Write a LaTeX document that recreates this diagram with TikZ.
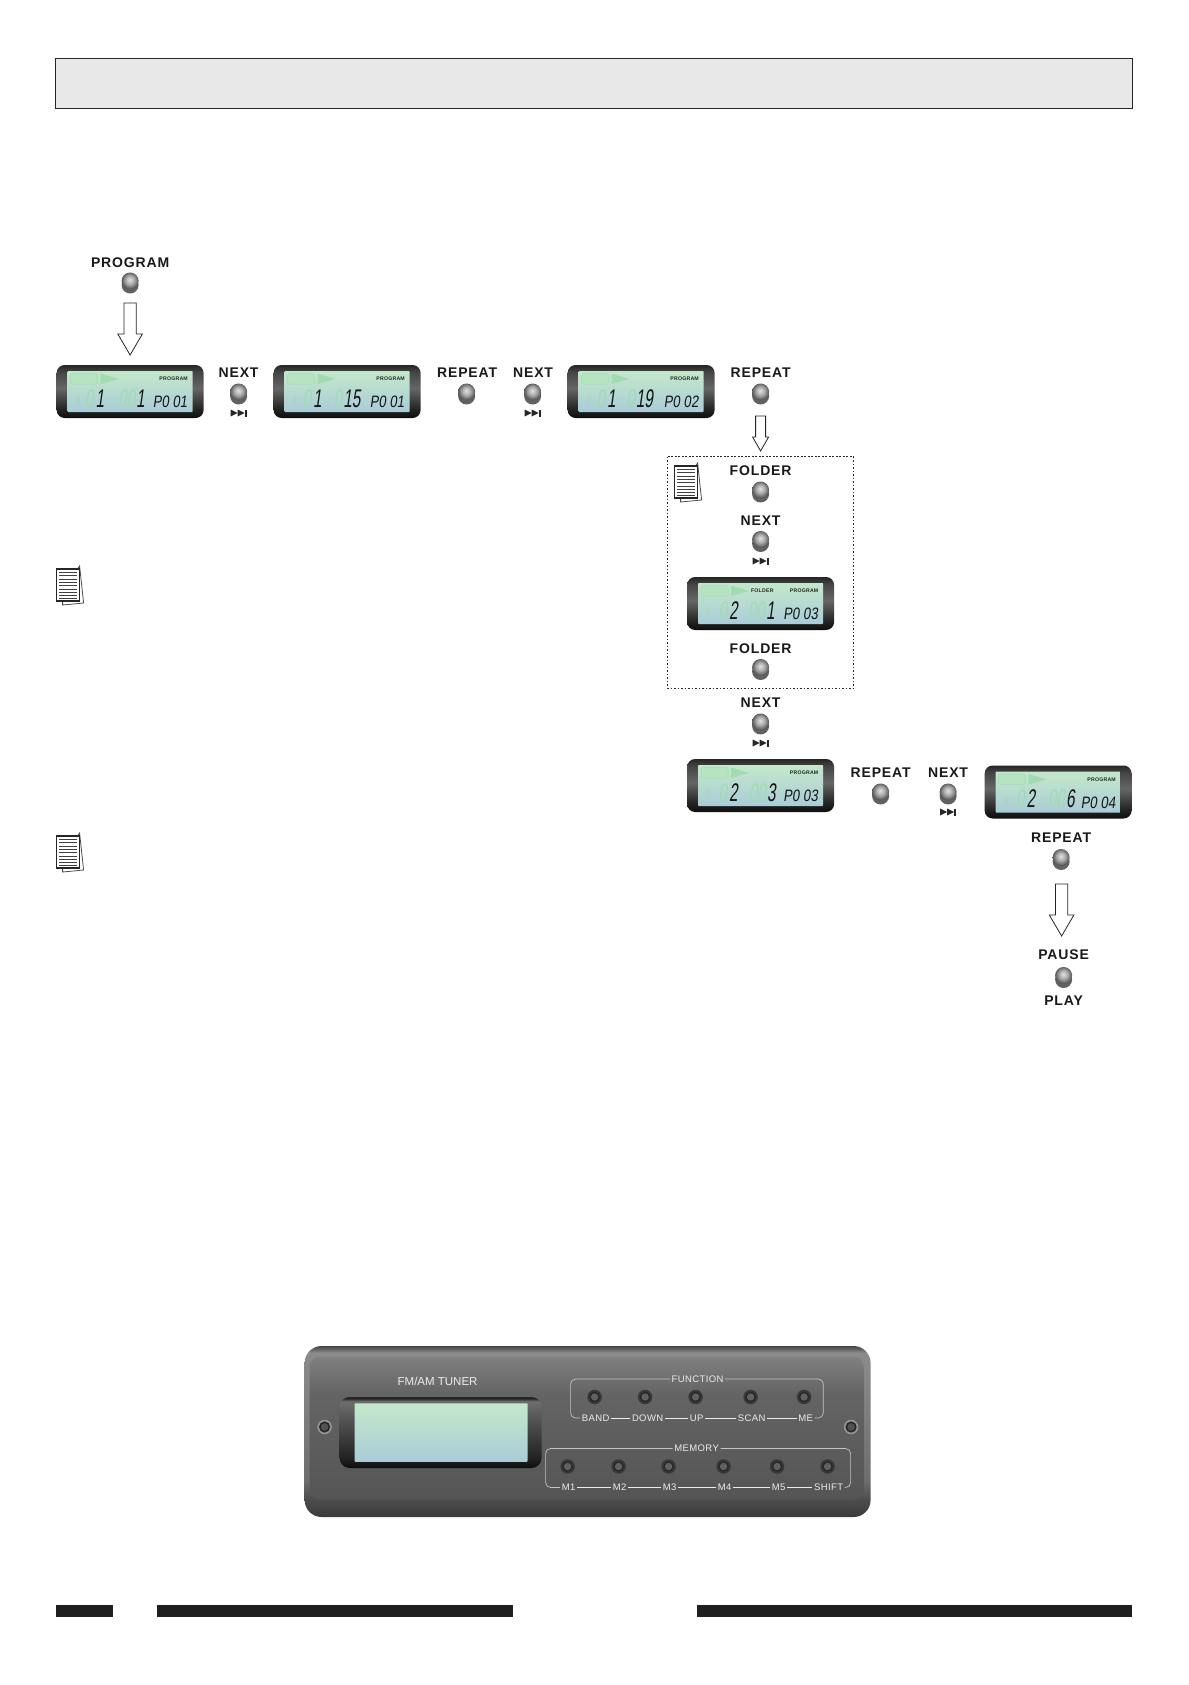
\documentclass[tikz,border=0pt]{standalone}
\usepackage{fontspec}
\setmainfont{Liberation Sans}
\newfontfamily\lblfont[LetterSpace=6]{Liberation Sans Bold}
\newfontfamily\lcdfont[FakeStretch=0.6,FakeSlant=0.14]{Liberation Sans}
\newfontfamily\lcdsmall[FakeStretch=0.8,FakeSlant=0.14]{Liberation Sans}
\newfontfamily\tinyfont[LetterSpace=4]{Liberation Sans Bold}
\newfontfamily\panelfont[LetterSpace=4]{Liberation Sans}
\definecolor{ghost}{HTML}{A0DCB0}
\definecolor{ghostb}{HTML}{B6E4C0}
\definecolor{lcdink}{HTML}{141414}
\definecolor{paneltxt}{HTML}{ECECEC}
\definecolor{pframec}{HTML}{C4C4C4}
\definecolor{pA}{HTML}{444444}
\definecolor{pB}{HTML}{8C8C8C}
\definecolor{pC}{HTML}{6E6E6E}
\definecolor{pD}{HTML}{4C4C4C}
\definecolor{pE}{HTML}{3A3A3A}
\definecolor{piA}{HTML}{555555}
\definecolor{piB}{HTML}{646464}
\definecolor{piC}{HTML}{808080}
\definecolor{bzA}{HTML}{262626}
\definecolor{bzB}{HTML}{666666}
\definecolor{bzC}{HTML}{0E0E0E}
\definecolor{bzD}{HTML}{222222}
\definecolor{bzE}{HTML}{464646}
\definecolor{tzB}{HTML}{555555}
\definecolor{tzC}{HTML}{6E6E6E}
\definecolor{scrA}{HTML}{C4E8CA}
\definecolor{scrB}{HTML}{AACCD8}
\definecolor{ballA}{HTML}{E2E2E2}
\definecolor{ballB}{HTML}{A8A8A8}
\definecolor{ballC}{HTML}{555555}
\pgfdeclareverticalshading{bezelsh}{100bp}{color(0bp)=(bzC); color(25bp)=(bzC); color(33bp)=(bzD); color(53bp)=(bzB); color(68bp)=(bzE); color(75bp)=(bzA); color(100bp)=(bzA)}
\pgfdeclareverticalshading{tbezelsh}{100bp}{color(0bp)=(bzC); color(25bp)=(bzC); color(32bp)=(bzD); color(60bp)=(tzB); color(72bp)=(tzC); color(74bp)=(bzA); color(100bp)=(bzA)}
\pgfdeclareverticalshading{scrsh}{100bp}{color(0bp)=(scrB); color(25bp)=(scrB); color(75bp)=(scrA); color(100bp)=(scrA)}
\pgfdeclareverticalshading{panelsh}{100bp}{color(0bp)=(pE); color(25bp)=(pE); color(30bp)=(pD); color(36bp)=(pC); color(73bp)=(pB); color(75bp)=(pA); color(100bp)=(pA)}
\pgfdeclareverticalshading{panelinsh}{100bp}{color(0bp)=(piA); color(25bp)=(piA); color(62bp)=(piB); color(75bp)=(piC); color(100bp)=(piC)}
\pgfdeclareradialshading{ballsh}{\pgfpoint{-1bp}{4bp}}{color(0bp)=(ballA); color(13bp)=(ballB); color(25bp)=(ballC); color(50bp)=(ballC)}
\tikzset{
  x=1pt,y=-1pt,
  lbl/.style={inner sep=0pt,yshift=-1pt,font=\lblfont\fontsize{14}{14}\selectfont,text=black!90},
  ballbtn/.style={circle,minimum size=17pt,inner sep=0pt,shading=ballsh},
  ballshadow/.style={circle,minimum size=17pt,inner sep=0pt,fill=black!62},
  lcdbody/.style={rounded corners=8pt,minimum width=147pt,minimum height=53pt,inner sep=0pt,shading=bezelsh},
  lcdscreen/.style={rounded corners=.8pt,minimum width=125pt,minimum height=41pt,inner sep=0pt,shading=scrsh},
  bigd/.style={inner sep=0pt,anchor=east,text=lcdink,font=\lcdfont\fontsize{25.5}{25.5}\selectfont},
  ghostd/.style={inner sep=0pt,text=ghost,font=\lcdfont\fontsize{12.5}{12.5}\selectfont},
  prg/.style={inner sep=0pt,text=lcdink,font=\lcdsmall\fontsize{16.5}{16.5}\selectfont},
  tiny/.style={inner sep=0pt,text=black!85,font=\tinyfont\fontsize{5.2}{5.2}\selectfont},
  hollow/.style={draw=black!85,line width=.8pt,fill=white,line join=miter},
  plbl/.style={inner sep=1.5pt,text=paneltxt,font=\panelfont\fontsize{9.5}{9.5}\selectfont},
  pframe/.style={draw=pframec,line width=.7pt,rounded corners=5pt},
  pline/.style={draw=paneltxt,line width=.8pt},
}
\def\gtxt{00}
% name, cx, cy, d1 east x, d1, d2 east x, d2, program text, folder flag text
\newcommand{\lcdunit}[9]{%
  \node[lcdbody] (#1) at (#2,#3) {};
  \node[lcdscreen] (#1s) at (#2,#3) {};
  \begin{scope}[shift={(#2,#3)}]
    \draw[draw=ghost,line width=.5pt,fill=ghostb,rounded corners=1.5pt] (-59.5,-18) rectangle (-32.5,-7.5);
    \fill[ghost] (-29.5,-18) -- (-11.5,-12.5) -- (-29.5,-7.5) -- cycle;
    \node[ghostd] (#1g0) at (-53,9) {8};
    \node[bigd] (#1a) at (#4,7) {\textcolor{ghost}{0}\hspace{2pt}#5};
    \node[bigd] (#1b) at (#6,7) {\textcolor{ghost}{\gtxt}\hspace{1pt}#7};
    \node[prg] (#1p) at (40,10.5) {#8};
    \node[tiny] (#1t) at (43.5,-12.5) {PROGRAM};
    \node[tiny] (#1f) at (1.7,-12.5) {#9};
  \end{scope}}
% name x y
\newcommand{\btn}[3]{%
  \node[ballshadow] (#1sh) at (#2,#3+4) {};
  \node[ballbtn] (#1) at (#2,#3) {};}
% skip icon
\newcommand{\skipicon}[3]{%
  \begin{scope}[shift={(#2,#3)}]
    \coordinate (#1) at (0,0);
    \fill[black!85] (-8,-3.5) -- (-1,0) -- (-8,3.5) -- cycle;
    \fill[black!85] (-1,-3.5) -- (6,0) -- (-1,3.5) -- cycle;
    \fill[black!85] (6.2,-3.5) rectangle (8,3.5);
  \end{scope}}
% cx top shoulder tip halfshaft halfhead
\newcommand{\blockarrow}[6]{%
  \draw[hollow] (#1-#5,#2) -- (#1+#5,#2) -- (#1+#5,#3) -- (#1+#6,#3) -- (#1,#4) -- (#1-#6,#3) -- (#1-#5,#3) -- cycle;}
% note icon at top-left x y
\newcommand{\noteicon}[2]{%
  \begin{scope}[shift={(#1,#2)}]
    \draw[black!70,line width=.8pt,fill=white] (6,35) -- (6,39) -- (27,37) -- (23,0) -- (21,3) -- (21,35) -- cycle;
    \draw[black!85,line width=1.1pt,fill=white] (0,3) rectangle (23,35);
    \foreach \yy in {6.3,9.6,...,33} \draw[black!75,line width=.6pt] (2.5,\yy) -- (20.5,\yy);
  \end{scope}}
% panel button
\newcommand{\pbtn}[3]{%
  \node[circle,minimum size=14.5pt,inner sep=0pt,fill=black!78] (#1) at (#2,#3) {};
  \fill[black!85] (#2,#3) circle (5.2pt);
  \fill[black!62] (#2,#3) circle (3.7pt);}
% screw
\newcommand{\pscrew}[3]{%
  \node[circle,minimum size=14.5pt,inner sep=0pt,fill=black!42] (#1) at (#2,#3) {};
  \fill[black!85] (#2,#3) circle (5.6pt);
  \fill[black!68] (#2,#3) circle (3.8pt);}
\begin{document}
\begin{tikzpicture}
\useasboundingbox (0,0) rectangle (1188,1685);
\fill[white] (0,0) rectangle (1188,1685);
% header
\draw[fill=black!9,draw=black!85,line width=.7pt] (55,58) rectangle (1132,108.5);
\begin{scope}[xshift=.6pt]
% top row
\node[lbl] (lprog) at (129.5,262) {PROGRAM};
\btn{bprog}{129.5}{281}
\blockarrow{129.5}{303}{334}{355}{6.2}{12.3}
\lcdunit{lcdA}{129.5}{391.5}{-25.7}{1}{14.8}{1}{P0 01}{}
\node[lbl] (lnA) at (238,371.7) {NEXT};
\btn{bnA}{238}{392}
\skipicon{snA}{238}{413}
\def\gtxt{0}
\lcdunit{lcdB}{346.5}{391.5}{-25.3}{1}{13.5}{15}{P0 01}{}
\node[lbl] (lrA) at (466.5,371.7) {REPEAT};
\btn{brA}{466}{392}
\node[lbl] (lnB) at (532.5,371.7) {NEXT};
\btn{bnB}{532}{392}
\skipicon{snB}{532}{413}
\lcdunit{lcdC}{640.5}{391.5}{-25.2}{1}{12}{19}{P0 02}{}
\def\gtxt{00}
\node[lbl] (lrB) at (760,371.7) {REPEAT};
\btn{brB}{760}{392}
\blockarrow{760}{416}{437}{451}{5}{8}
% dotted group
\draw[black!85,line width=.9pt,dash pattern=on 1.6pt off 1.9pt] (666.7,456.7) rectangle (853,688);
\noteicon{674}{463}
\node[lbl] (lfA) at (760,469.5) {FOLDER};
\btn{bfA}{760}{490}
\node[lbl] (lnC) at (760,520) {NEXT};
\btn{bnC}{760}{539.5}
\skipicon{snC}{760}{561}
\lcdunit{lcdD}{760}{603.5}{-22.7}{2}{14.3}{1}{P0 03}{FOLDER}
\node[lbl] (lfB) at (760,647.5) {FOLDER};
\btn{bfB}{760}{667.5}
\node[lbl] (lnD) at (760,702) {NEXT};
\btn{bnD}{760}{722}
\skipicon{snD}{760}{743}
\lcdunit{lcdE}{760}{785.5}{-22.7}{2}{15.3}{3}{P0 03}{}
\node[lbl] (lrC) at (880,771.7) {REPEAT};
\btn{brC}{880}{792}
\node[lbl] (lnE) at (947.5,771.7) {NEXT};
\btn{bnE}{947.5}{792}
\skipicon{snE}{947.5}{812}
\lcdunit{lcdF}{1057.5}{792}{-22.7}{2}{16.8}{6}{P0 04}{}
\node[lbl] (lrD) at (1060.5,837) {REPEAT};
\btn{brD}{1060.5}{857.5}
\blockarrow{1061}{884}{915}{936}{6.2}{12.3}
\node[lbl] (lpa) at (1063,954) {PAUSE};
\btn{bpa}{1063}{975.5}
\node[lbl] (lpl) at (1063,1000) {PLAY};
% note icons
\noteicon{56}{566}
\noteicon{56}{833}
% tuner panel
\node[rounded corners=17pt,minimum width=566pt,minimum height=171pt,inner sep=0pt,shading=panelsh] (panel) at (587,1431.5) {};
\node[rounded corners=10pt,minimum width=554pt,minimum height=143pt,inner sep=0pt,shading=panelinsh] (panelin) at (586,1428) {};
\node[plbl,font=\fontsize{11.5}{11.5}\selectfont] (tun) at (437,1381) {FM/AM TUNER};
\node[rounded corners=10pt,minimum width=202pt,minimum height=71pt,inner sep=0pt,shading=tbezelsh] (tbz) at (440,1432.5) {};
\node[rounded corners=.8pt,minimum width=173pt,minimum height=58.5pt,inner sep=0pt,shading=scrsh] (tscr) at (440.5,1432.5) {};
\pscrew{scL}{324}{1427}
\pscrew{scR}{850.5}{1427}
% function group
\node[plbl] (fn) at (697,1379) {FUNCTION};
\node[plbl] (fband) at (595,1418) {BAND};
\node[plbl] (fdown) at (647,1418) {DOWN};
\node[plbl] (fup) at (696,1418) {UP};
\node[plbl] (fscan) at (751,1418) {SCAN};
\node[plbl] (fme) at (805,1418) {ME};
\draw[pframe] (fn.west) -- (570,1379) -- (570,1418) -- (fband.west);
\draw[pframe] (fn.east) -- (822.7,1379) -- (822.7,1418) -- (fme.east);
\draw[pline] (fband.east) -- (fdown.west);
\draw[pline] (fdown.east) -- (fup.west);
\draw[pline] (fup.east) -- (fscan.west);
\draw[pline] (fscan.east) -- (fme.west);
\pbtn{pb1}{594}{1397}\pbtn{pb2}{644.5}{1397}\pbtn{pb3}{695}{1397}\pbtn{pb4}{750}{1397}\pbtn{pb5}{803.5}{1397}
% memory group
\node[plbl] (mm) at (696,1448.5) {MEMORY};
\node[plbl] (m1) at (568,1487.5) {M1};
\node[plbl] (m2) at (619,1487.5) {M2};
\node[plbl] (m3) at (669,1487.5) {M3};
\node[plbl] (m4) at (724,1487.5) {M4};
\node[plbl] (m5) at (778,1487.5) {M5};
\node[plbl] (msh) at (828,1487.5) {SHIFT};
\draw[pframe] (mm.west) -- (545,1448.5) -- (545,1487.5) -- (m1.west);
\draw[pframe] (mm.east) -- (850,1448.5) -- (850,1487.5) -- (msh.east);
\draw[pline] (m1.east) -- (m2.west);
\draw[pline] (m2.east) -- (m3.west);
\draw[pline] (m3.east) -- (m4.west);
\draw[pline] (m4.east) -- (m5.west);
\draw[pline] (m5.east) -- (msh.west);
\pbtn{mb1}{567}{1466.5}\pbtn{mb2}{618}{1466.5}\pbtn{mb3}{668}{1466.5}\pbtn{mb4}{723}{1466.5}\pbtn{mb5}{776.5}{1466.5}\pbtn{mb6}{827}{1466.5}
% footer bars
\fill[black!88] (55,1604.5) rectangle (112,1616.5);
\fill[black!88] (156,1604.5) rectangle (512.5,1616.5);
\fill[black!88] (696,1604.5) rectangle (1131.4,1616.5);
\end{scope}
\end{tikzpicture}
\end{document}
